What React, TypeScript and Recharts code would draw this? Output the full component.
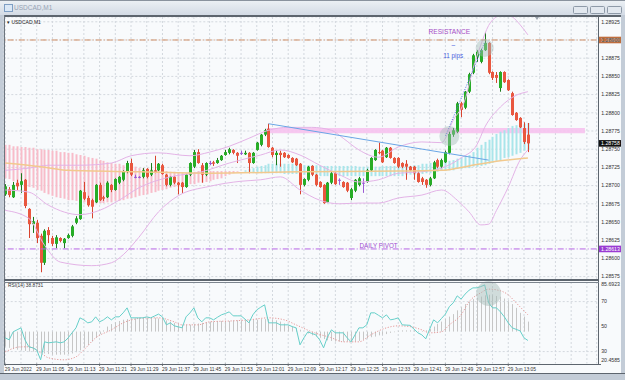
import React from "react";
import {
  ComposedChart,
  Bar,
  Line,
  XAxis,
  YAxis,
  CartesianGrid,
  ReferenceLine,
  ReferenceArea,
  ReferenceDot,
} from "recharts";

// USDCAD M1, 29 Jun 2022 from 10:57. Quotes are in points (price x 100000).
const SLOTS = 151;

const open = [
  128688, 128695, 128684, 128704, 128701, 128708, 128668, 128647, 128649, 128631,
  128594, 128639, 128628, 128620, 128628, 128621, 128628, 128631, 128649, 128654,
  128691, 128683, 128680, 128677, 128701, 128684, 128684, 128701, 128694, 128704,
  128708, 128719, 128731, 128712, 128712, 128712, 128723, 128715, 128721, 128721,
  128728, 128715, 128701, 128712, 128704, 128704, 128698, 128715, 128726, 128746,
  128728, 128715, 128731, 128732, 128731, 128735, 128742, 128745, 128749, 128745,
  128745, 128743, 128745, 128731, 128749, 128756, 128770, 128778, 128752, 128742,
  128745, 128745, 128742, 128738, 128737, 128730, 128701, 128708, 128727, 128715,
  128705, 128701, 128677, 128704, 128717, 128708, 128705, 128704, 128683, 128693,
  128701, 128704, 128705, 128721, 128735, 128746, 128748, 128739, 128752, 128738,
  128738, 128731, 128730, 128726, 128726, 128717, 128710, 128708, 128701, 128710,
  128735, 128726, 128732, 128745, 128770, 128774, 128813, 128807, 128829, 128855,
  128877, 128870, 128886, 128896, 128856, 128852, 128834, 128856, 128845, 128827,
  128800, 128793, 128779, 128770,
];
const high = [
  128702, 128698, 128705, 128708, 128717, 128709, 128669, 128657, 128653, 128634,
  128640, 128643, 128631, 128632, 128629, 128628, 128634, 128646, 128658, 128694,
  128705, 128686, 128682, 128702, 128704, 128686, 128706, 128702, 128710, 128713,
  128721, 128734, 128737, 128715, 128713, 128724, 128724, 128731, 128741, 128731,
  128730, 128716, 128713, 128713, 128705, 128705, 128716, 128732, 128749, 128750,
  128731, 128732, 128734, 128734, 128738, 128742, 128749, 128752, 128750, 128746,
  128748, 128748, 128746, 128746, 128760, 128771, 128778, 128785, 128753, 128748,
  128748, 128746, 128743, 128739, 128738, 128731, 128710, 128727, 128728, 128716,
  128706, 128702, 128705, 128719, 128719, 128710, 128706, 128705, 128697, 128709,
  128712, 128710, 128723, 128739, 128750, 128759, 128749, 128753, 128753, 128739,
  128739, 128732, 128735, 128727, 128727, 128719, 128712, 128709, 128712, 128734,
  128737, 128737, 128748, 128774, 128779, 128815, 128815, 128830, 128855, 128881,
  128886, 128888, 128911, 128897, 128857, 128856, 128857, 128857, 128846, 128829,
  128801, 128794, 128787, 128786,
];
const low = [
  128686, 128684, 128683, 128694, 128690, 128669, 128628, 128635, 128621, 128581,
  128591, 128621, 128617, 128614, 128622, 128614, 128627, 128629, 128647, 128653,
  128680, 128671, 128655, 128676, 128679, 128679, 128683, 128691, 128693, 128702,
  128706, 128717, 128713, 128710, 128710, 128710, 128710, 128713, 128717, 128720,
  128715, 128699, 128699, 128702, 128688, 128690, 128697, 128713, 128724, 128730,
  128704, 128713, 128728, 128727, 128730, 128734, 128741, 128743, 128743, 128731,
  128742, 128742, 128717, 128730, 128748, 128754, 128768, 128752, 128739, 128728,
  128726, 128738, 128737, 128731, 128727, 128688, 128699, 128706, 128713, 128699,
  128697, 128675, 128676, 128702, 128701, 128701, 128697, 128691, 128680, 128691,
  128699, 128690, 128704, 128720, 128734, 128743, 128731, 128738, 128737, 128730,
  128724, 128724, 128708, 128720, 128708, 128704, 128701, 128697, 128699, 128709,
  128724, 128724, 128731, 128743, 128767, 128772, 128794, 128805, 128827, 128853,
  128870, 128868, 128885, 128853, 128845, 128841, 128829, 128841, 128830, 128796,
  128789, 128779, 128757, 128746,
];
const close = [
  128699, 128687, 128701, 128699, 128706, 128672, 128647, 128651, 128628, 128594,
  128638, 128632, 128620, 128629, 128624, 128627, 128632, 128644, 128655, 128693,
  128682, 128673, 128671, 128701, 128680, 128682, 128704, 128694, 128709, 128712,
  128719, 128731, 128715, 128712, 128712, 128721, 128712, 128721, 128719, 128730,
  128716, 128701, 128712, 128704, 128701, 128698, 128715, 128731, 128746, 128731,
  128715, 128731, 128731, 128730, 128735, 128741, 128746, 128750, 128745, 128741,
  128745, 128745, 128731, 128745, 128759, 128770, 128776, 128753, 128742, 128745,
  128742, 128739, 128738, 128732, 128728, 128701, 128709, 128726, 128715, 128701,
  128698, 128676, 128704, 128717, 128702, 128708, 128698, 128693, 128695, 128708,
  128710, 128704, 128721, 128738, 128749, 128745, 128732, 128752, 128738, 128731,
  128726, 128726, 128726, 128721, 128717, 128705, 128705, 128701, 128710, 128732,
  128726, 128735, 128746, 128771, 128776, 128813, 128804, 128829, 128853, 128879,
  128884, 128886, 128896, 128855, 128848, 128848, 128856, 128842, 128831, 128797,
  128790, 128780, 128760, 128758,
];

// hatched cloud: pink where spanA < spanB, cyan where spanA > spanB
const spanA = [
  128710, 128709, 128706, 128705, 128702, 128701, 128698, 128697, 128694, 128693,
  128690, 128688, 128686, 128684, 128683, 128682, 128680, 128680, 128679, 128679,
  128677, 128677, 128676, 128676, 128676, 128676, 128677, 128677, 128679, 128679,
  128680, 128682, 128683, 128684, 128686, 128687, 128688, 128690, 128691, 128693,
  128694, 128695, 128697, 128698, 128699, 128701, 128701, 128702, 128702, 128704,
  128704, 128705, 128706, 128708, 128709, 128710, 128713, 128715, 128717, 128719,
  128720, 128721, 128723, 128724, 128726, 128727, 128728, 128730, 128730, 128730,
  128730, 128730, 128730, 128730, 128730, 128730, 128728, 128728, 128728, 128728,
  128727, 128727, 128727, 128727, 128727, 128727, 128727, 128727, 128727, 128727,
  128726, 128726, 128726, 128726, 128726, 128726, 128727, 128727, 128727, 128727,
  128727, 128727, 128727, 128727, 128728, 128728, 128730, 128730, 128731, 128731,
  128732, 128732, 128732, 128734, 128735, 128737, 128738, 128741, 128742, 128746,
  128752, 128756, 128760, 128763, 128767, 128771, 128774, 128776, 128779, 128782,
  128783, 128785, 128785, 128786,
];
const spanB = [
  128756, 128756, 128754, 128754, 128753, 128753, 128752, 128752, 128750, 128750,
  128749, 128749, 128748, 128748, 128746, 128746, 128745, 128745, 128743, 128742,
  128741, 128739, 128738, 128737, 128735, 128734, 128732, 128731, 128730, 128730,
  128728, 128727, 128726, 128726, 128724, 128724, 128723, 128723, 128721, 128721,
  128720, 128720, 128719, 128719, 128717, 128717, 128717, 128719, 128719, 128720,
  128720, 128720, 128720, 128720, 128720, 128720, 128720, 128720, 128720, 128720,
  128720, 128719, 128719, 128717, 128717, 128717, 128717, 128717, 128717, 128717,
  128717, 128716, 128716, 128716, 128716, 128716, 128715, 128715, 128715, 128715,
  128713, 128713, 128713, 128713, 128713, 128713, 128713, 128713, 128713, 128713,
  128713, 128713, 128713, 128713, 128713, 128713, 128713, 128713, 128713, 128713,
  128713, 128713, 128715, 128715, 128715, 128716, 128716, 128717, 128717, 128719,
  128719, 128720, 128720, 128721, 128721, 128723, 128723, 128724, 128724, 128726,
  128726, 128727, 128728, 128730, 128731, 128734, 128735, 128738, 128739, 128741,
  128743, 128745, 128748, 128749,
];

// [candle index, value]
const bbUpper: [number, number][] = [
  [0, 128721], [6, 128724], [11, 128728], [19, 128728], [27, 128731], [32, 128741],
  [39, 128745], [47, 128741], [52, 128746], [57, 128754], [62, 128765], [67, 128776],
  [72, 128780], [78, 128780], [83, 128776], [86, 128765], [90, 128749], [95, 128739],
  [100, 128753], [106, 128760], [111, 128759], [114, 128790], [117, 128818], [119, 128860],
  [121, 128893], [123, 128920], [125, 128932], [127, 128936], [129, 128932], [131, 128921],
  [133, 128907],
];
const bbMiddle: [number, number][] = [
  [0, 128694], [6, 128691], [11, 128673], [19, 128660], [24, 128666], [29, 128680],
  [34, 128697], [42, 128712], [50, 128719], [57, 128731], [65, 128742], [70, 128749],
  [75, 128742], [80, 128728], [85, 128715], [90, 128705], [95, 128708], [100, 128717],
  [106, 128719], [111, 128724], [116, 128738], [120, 128756], [122, 128780], [126, 128808],
  [130, 128824], [133, 128829],
];
const bbLower: [number, number][] = [
  [0, 128666], [6, 128655], [10, 128618], [14, 128595], [22, 128590], [27, 128594],
  [30, 128605], [34, 128629], [39, 128664], [44, 128686], [52, 128699], [60, 128706],
  [65, 128708], [70, 128712], [75, 128694], [80, 128680], [85, 128675], [90, 128676],
  [95, 128676], [100, 128683], [106, 128687], [111, 128694], [115, 128680], [118, 128664],
  [121, 128646], [123, 128647], [125, 128666], [128, 128698], [131, 128735], [133, 128749],
];
const movingAverage: [number, number][] = [
  [0, 128731], [9, 128726], [16, 128721], [34, 128719], [52, 128717], [75, 128719],
  [100, 128720], [111, 128721], [118, 128727], [126, 128734], [133, 128738],
];

// RSI(14) pane
const rsi = [
  41, 39.4, 45.8, 47.4, 49, 39.4, 33.8, 33, 31.4, 23.4,
  37.8, 37, 37.4, 37.8, 37, 37.8, 41, 45, 49, 57,
  55.4, 53, 53.8, 57.8, 53.8, 55.4, 57.8, 55.4, 57.8, 57.8,
  61, 65, 57, 57, 57, 57, 57.8, 57, 58.5, 60,
  57.8, 51.4, 53, 50.6, 49.8, 49, 57.8, 61, 65, 57,
  53.8, 57, 57, 55.4, 57.5, 59.4, 60.5, 61.8, 58.6, 58.6,
  58.6, 56, 53, 59.4, 63.4, 65.5, 67.4, 53, 53, 53,
  51.4, 51.4, 51.4, 50, 49, 35.4, 41, 45.8, 44.5, 43.4,
  39.4, 33, 41.8, 47.4, 45, 45, 45, 41, 37.8, 43.4,
  49, 49, 51.4, 61, 61, 59, 57, 59.4, 55.4, 56,
  57, 51.4, 51.2, 51, 48, 45, 43.4, 40.2, 48, 55.4,
  53, 56.5, 60, 66, 69, 74.6, 72, 76, 79, 81,
  81, 82, 83.4, 69, 65, 65, 61.8, 57.8, 53, 49,
  47.8, 46.6, 41, 38.8731,
];
const rsiSignal: [number, number][] = [
  [0, 29.8], [4, 33.8], [6, 33.8], [9, 29], [11, 25], [15, 23.4], [18, 25.8], [20, 31.4],
  [23, 41], [27, 47.4], [30, 53], [33, 56], [36, 57], [39, 57], [43, 53.8], [45, 51.4],
  [49, 51.4], [52, 53.8], [58, 54.6], [62, 55.4], [67, 57], [71, 55.4], [74, 51.4],
  [78, 45.8], [83, 41], [86, 37.8], [90, 37.8], [93, 43.4], [97, 49], [100, 50.6],
  [103, 50], [106, 47.4], [108, 45], [111, 45.8], [113, 51.4], [116, 59.4], [118, 69.8],
  [121, 77], [123, 80], [125, 79.4], [128, 75.4], [130, 69], [133, 59.4],
];
const rsiHistogram = [
  34, 33, 32, 31.5, 31, 30.5, 30, 30, 29.5, 29,
  28.5, 28, 27.5, 27.5, 27.5, 27.5, 28, 28.5, 29.5, 31,
  33, 35, 38, 41, 44, 47, 50, 52, 53.5, 54.5,
  55.5, 56, 56.5, 56.5, 57, 57, 57, 57, 57, 56.5,
  56, 55, 54, 53, 52, 51.5, 51.5, 51.5, 52, 52.5,
  53, 53.5, 54, 54, 54.5, 54.5, 54.5, 54.5, 55, 55,
  55, 55, 55.5, 55.5, 55.5, 56, 56, 56, 55.5, 55,
  54, 52.5, 51, 50, 49, 47.5, 46, 44.5, 43, 42,
  41, 40, 39, 38.5, 38, 38, 38, 38, 38, 38,
  38.5, 39.5, 40.5, 41.5, 42, 43, 43.5, 44, 45, 45.5,
  46.5, 47, 47, 47, 47, 46.5, 46.5, 47, 48, 50,
  52, 54, 56, 58, 60, 63, 65.5, 68, 70, 72,
  73, 74, 75, 75.5, 75, 74.5, 74, 72.5, 71, 68,
  65, 61, 58, 54,
];
const HIST_BASE = 46;

const timeLabels = [
  "29 Jun 2022", "29 Jun 11:05", "29 Jun 11:13", "29 Jun 11:21", "29 Jun 11:29",
  "29 Jun 11:37", "29 Jun 11:45", "29 Jun 11:53", "29 Jun 12:01", "29 Jun 12:09",
  "29 Jun 12:17", "29 Jun 12:25", "29 Jun 12:33", "29 Jun 12:41", "29 Jun 12:49",
  "29 Jun 12:57", "29 Jun 13:05",
];
const priceTicks = [
  128575, 128600, 128625, 128650, 128675, 128700, 128725, 128750, 128775, 128800,
  128825, 128850, 128875, 128900, 128925,
];
const rsiTicks = [20.4585, 30, 50, 70, 85.6923];

const RESISTANCE = 128900;
const DAILY_PIVOT = 128613;
const LAST_PRICE = 128758;

const gridTicks = Array.from({ length: 38 }, (_, k) => k * 4);
const labelAt = new Map(timeLabels.map((t, k) => [k * 8, t]));

const FONT = "'Liberation Sans', Arial, sans-serif";
const GREEN = "#27ad27";
const GREEN_WICK = "#1b7a1b";
const RED = "#e9573f";
const RED_WICK = "#d8432f";
const DOJI = "#9b5bd4";
const PINK = "#f8bcc9";
const CYAN = "#a9e5ea";
const BAND = "#e3b3e6";
const GRID = "#d3d8de";

const rows: any[] = Array.from({ length: SLOTS }, (_, i) => ({
  i,
  o: open[i] ?? null,
  h: high[i] ?? null,
  l: low[i] ?? null,
  c: close[i] ?? null,
  a: spanA[i] ?? null,
  b: spanB[i] ?? null,
  up: null,
  mid: null,
  lo: null,
  ma: null,
}));
bbUpper.forEach(([i, v]) => (rows[i].up = v));
bbMiddle.forEach(([i, v]) => (rows[i].mid = v));
bbLower.forEach(([i, v]) => (rows[i].lo = v));
movingAverage.forEach(([i, v]) => (rows[i].ma = v));

const rsiRows: any[] = Array.from({ length: SLOTS }, (_, i) => ({
  i,
  rsi: rsi[i] ?? null,
  hist: rsiHistogram[i] ?? null,
  sig: null,
}));
rsiSignal.forEach(([i, v]) => (rsiRows[i].sig = v));

function Candle(props: any) {
  const { x, y, width, height, payload } = props;
  if (!payload || payload.o == null || !(height > 0)) return null;
  const { o, h, l, c } = payload;
  const k = height / (h - l);
  const cx = Math.round(x + width / 2) + 0.5;
  const yo = y + (h - o) * k;
  const yc = y + (h - c) * k;
  const body = c > o ? GREEN : c < o ? RED : DOJI;
  const wick = c > o ? GREEN_WICK : c < o ? RED_WICK : DOJI;
  return (
    <g>
      <line x1={cx} x2={cx} y1={y} y2={y + height} stroke={wick} strokeWidth={1} />
      <rect
        x={cx - 1.5}
        y={Math.min(yo, yc)}
        width={3}
        height={Math.max(Math.abs(yc - yo), 1)}
        fill={body}
      />
    </g>
  );
}

function Stripe(props: any) {
  const { x, y, width, height, payload } = props;
  if (!payload || payload.a == null || !(height > 0.5)) return null;
  const cx = Math.round(x + width / 2);
  return (
    <rect x={cx - 0.5} y={y} width={2} height={height} fill={payload.a >= payload.b ? CYAN : PINK} />
  );
}

function HistLine(props: any) {
  const { x, y, width, height, payload } = props;
  if (!payload || payload.hist == null) return null;
  const cx = Math.round(x + width / 2) + 0.5;
  return <line x1={cx} x2={cx} y1={y} y2={y + height} stroke="#c6c6c6" strokeWidth={1} />;
}

function PriceTick({ x, y, payload }: any) {
  return (
    <text x={x + 4.5} y={y} dy={1.8} fontSize={5.2} fill="#333" fontFamily={FONT}>
      {(payload.value / 1e5).toFixed(5)}
    </text>
  );
}

function RsiTick({ x, y, payload }: any) {
  const v = payload.value;
  const edge = v === rsiTicks[0] || v === rsiTicks[rsiTicks.length - 1];
  const dy = v === rsiTicks[rsiTicks.length - 1] ? 4 : v === rsiTicks[0] ? -1.5 : 1.8;
  return (
    <text x={x + 4.5} y={y} dy={dy} fontSize={5.2} fill="#333" fontFamily={FONT}>
      {edge ? v.toFixed(4) : v}
    </text>
  );
}

function TimeTick({ x, y, payload }: any) {
  const label = labelAt.get(payload.value);
  if (!label) return null;
  return (
    <g>
      <line x1={x} x2={x} y1={y} y2={y + 2.5} stroke="#555" strokeWidth={0.8} />
      <text x={x - 0.5} y={y + 7.8} fontSize={4.9} fill="#333" fontFamily={FONT}>
        {label}
      </text>
    </g>
  );
}

const priceBox = (text: string, fill: string) => (props: any) => {
  const vb = props.viewBox;
  if (!vb) return null;
  const x0 = vb.x + vb.width + 1.8;
  return (
    <g>
      <rect x={x0} y={vb.y - 3.3} width={22.5} height={6.6} fill={fill} />
      <text x={x0 + 2.6} y={vb.y} dy={1.9} fontSize={5.2} fill="#fff" fontFamily={FONT}>
        {text}
      </text>
    </g>
  );
};

const note = (text: string, colour: string, size: number) => (p: any) => (
  <text
    x={p.cx}
    y={p.cy}
    dy={size * 0.35}
    textAnchor="middle"
    fontSize={size}
    fill={colour}
    fontFamily={FONT}
  >
    {text}
  </text>
);

const frame = (left: number, top: number, width: number, height: number, background: string) => (
  <div style={{ position: "absolute", left, top, width, height, background }} />
);

export default function App() {
  return (
    <div
      style={{
        position: "fixed",
        left: 0,
        top: 0,
        width: 625,
        height: 380,
        overflow: "hidden",
        background: "#c3ccd7",
        fontFamily: FONT,
      }}
    >
      {/* window title bar */}
      {frame(0, 0, 625, 15, "linear-gradient(#edf1f5, #d3dbe5)")}
      {frame(0, 0, 625, 1, "#8a939e")}
      <div
        style={{
          position: "absolute",
          left: 4,
          top: 3.5,
          width: 7,
          height: 6,
          border: "1px solid #7f9fc4",
          background: "#dbe8f6",
        }}
      />
      <div style={{ position: "absolute", left: 14, top: 3.5, fontSize: 6.5, color: "#97a4b5" }}>
        USDCAD,M1
      </div>
      {[573, 590, 607].map((l) => (
        <div
          key={l}
          style={{
            position: "absolute",
            left: l,
            top: 5.5,
            width: 13,
            height: 6,
            borderRadius: 1.5,
            border: "1px solid #8e9aa8",
            background: "#e2e8ef",
          }}
        />
      ))}

      {/* chart canvas */}
      {frame(4, 16, 617, 357, "#f8fafc")}

      <div style={{ position: "absolute", left: 0, top: 0 }}>
        <ComposedChart width={625} height={282} data={rows} margin={{ top: 17, right: 4.3, bottom: 2, left: 3.3 }}>
          <XAxis xAxisId="c" dataKey="i" hide ticks={gridTicks} interval={0} />
          <XAxis xAxisId="s" dataKey="i" hide />
          <YAxis
            yAxisId="p"
            orientation="right"
            width={24}
            domain={[128570.34, 128931.59]}
            ticks={priceTicks}
            interval={0}
            allowDataOverflow
            axisLine={false}
            tickLine={false}
            tickSize={0}
            tickMargin={0}
            tick={<PriceTick />}
          />
          <CartesianGrid xAxisId="c" yAxisId="p" stroke={GRID} strokeDasharray="2 2" />
          <Bar
            xAxisId="s"
            yAxisId="p"
            dataKey={(d: any) => (d.a == null ? null : [Math.min(d.a, d.b), Math.max(d.a, d.b)])}
            shape={<Stripe />}
            isAnimationActive={false}
          />
          <ReferenceArea
            xAxisId="c"
            yAxisId="p"
            x1={67}
            x2={147}
            y1={128772}
            y2={128779}
            fill="#f6c2ee"
            fillOpacity={0.9}
            stroke="none"
          />
          <Line xAxisId="c" yAxisId="p" dataKey="up" type="monotone" stroke={BAND} strokeWidth={1} dot={false} connectNulls isAnimationActive={false} />
          <Line xAxisId="c" yAxisId="p" dataKey="mid" type="monotone" stroke={BAND} strokeWidth={1} dot={false} connectNulls isAnimationActive={false} />
          <Line xAxisId="c" yAxisId="p" dataKey="lo" type="monotone" stroke={BAND} strokeWidth={1} dot={false} connectNulls isAnimationActive={false} />
          <Line xAxisId="c" yAxisId="p" dataKey="ma" type="monotone" stroke="#f2c98e" strokeWidth={1.5} dot={false} connectNulls isAnimationActive={false} />
          <ReferenceLine
            xAxisId="c"
            yAxisId="p"
            segment={[{ x: 67, y: 128785 }, { x: 123, y: 128735 }]}
            stroke="#6aa6e6"
            strokeWidth={1}
          />
          <ReferenceLine
            xAxisId="c"
            yAxisId="p"
            segment={[{ x: 112, y: 128768 }, { x: 122, y: 128897 }]}
            stroke="#4d6fe0"
            strokeWidth={1}
            strokeDasharray="1 1.5"
          />
          <ReferenceLine
            xAxisId="c"
            yAxisId="p"
            y={RESISTANCE}
            stroke="#cf8c63"
            strokeWidth={1}
            strokeDasharray="6 2 1 2"
            label={priceBox("1.28900", "#bf6d3d")}
          />
          <ReferenceLine
            xAxisId="c"
            yAxisId="p"
            y={DAILY_PIVOT}
            stroke="#b765e4"
            strokeWidth={1}
            strokeDasharray="6 2 1 2"
            label={priceBox("1.28613", "#9a3bd2")}
          />
          <ReferenceLine
            xAxisId="c"
            yAxisId="p"
            y={LAST_PRICE}
            stroke="none"
            strokeOpacity={0}
            label={priceBox("1.28758", "#111")}
          />
          <Bar
            xAxisId="c"
            yAxisId="p"
            dataKey={(d: any) => (d.o == null ? null : [d.l, d.h])}
            shape={<Candle />}
            isAnimationActive={false}
          />
          <ReferenceDot xAxisId="c" yAxisId="p" x={113} y={128768} r={10} fill="#a5bdb9" fillOpacity={0.45} stroke="none" />
          <ReferenceDot xAxisId="c" yAxisId="p" x={122} y={128889} r={9} fill="#a5bdb9" fillOpacity={0.45} stroke="none" />
          <ReferenceDot xAxisId="c" yAxisId="p" x={113} y={128911} r={0} shape={note("RESISTANCE", "#a54cc6", 6.6)} />
          <ReferenceDot xAxisId="c" yAxisId="p" x={114} y={128893} r={0} shape={note("–", "#4a63e0", 6.5)} />
          <ReferenceDot xAxisId="c" yAxisId="p" x={114} y={128878} r={0} shape={note("11 pips", "#4a63e0", 6.3)} />
          <ReferenceDot xAxisId="c" yAxisId="p" x={95} y={128618} r={0} shape={note("DAILY PIVOT", "#a04fd0", 6.3)} />
        </ComposedChart>
      </div>

      <div style={{ position: "absolute", left: 0, top: 280 }}>
        <ComposedChart width={625} height={100} data={rsiRows} margin={{ top: 2, right: 4.3, bottom: 0.5, left: 3.3 }}>
          <XAxis
            dataKey="i"
            ticks={gridTicks}
            interval={0}
            height={16}
            axisLine={false}
            tickLine={false}
            tickSize={0}
            tickMargin={0}
            tick={<TimeTick />}
          />
          <YAxis
            orientation="right"
            width={24}
            domain={[20.4585, 85.6923]}
            ticks={rsiTicks}
            interval={0}
            allowDataOverflow
            axisLine={false}
            tickLine={false}
            tickSize={0}
            tickMargin={0}
            tick={<RsiTick />}
          />
          <CartesianGrid horizontal={false} stroke={GRID} strokeDasharray="2 2" />
          <ReferenceLine y={70} stroke={GRID} strokeDasharray="2 2" />
          <ReferenceLine y={30} stroke={GRID} strokeDasharray="2 2" />
          <Bar
            dataKey={(d: any) =>
              d.hist == null ? null : [Math.min(HIST_BASE, d.hist), Math.max(HIST_BASE, d.hist)]
            }
            shape={<HistLine />}
            isAnimationActive={false}
          />
          <Line dataKey="sig" type="monotone" stroke="#e59a9a" strokeWidth={1} strokeDasharray="1.2 1.6" dot={false} connectNulls isAnimationActive={false} />
          <Line dataKey="rsi" type="linear" stroke="#66cfc9" strokeWidth={1} dot={false} isAnimationActive={false} />
          <ReferenceDot x={123} y={76.5} r={12.5} fill="#9fb8b4" fillOpacity={0.45} stroke="none" />
        </ComposedChart>
      </div>

      {/* panel borders */}
      {frame(4, 15, 617, 2, "#5d656e")}
      {frame(4, 15, 1, 349, "#6d757e")}
      {frame(598, 16, 1, 348, "#5d656e")}
      {frame(4, 279, 595, 2, "#5d656e")}
      {frame(4, 281.5, 595, 1, "#7d858e")}
      {frame(4, 363.5, 597, 1, "#5d656e")}
      {frame(0, 373, 625, 1, "#5d656e")}
      {frame(621, 15, 4, 358, "#c3ccd7")}
      <div
        style={{
          position: "absolute",
          left: 535,
          top: 17,
          width: 0,
          height: 0,
          borderLeft: "2.5px solid transparent",
          borderRight: "2.5px solid transparent",
          borderTop: "3px solid #9aa3ad",
        }}
      />
      <div style={{ position: "absolute", left: 7, top: 18.5, fontSize: 5, color: "#222" }}>
        ▾ USDCAD,M1
      </div>
      <div style={{ position: "absolute", left: 8, top: 283, fontSize: 4.8, color: "#333" }}>
        RSI(14) 38.8731
      </div>
    </div>
  );
}
